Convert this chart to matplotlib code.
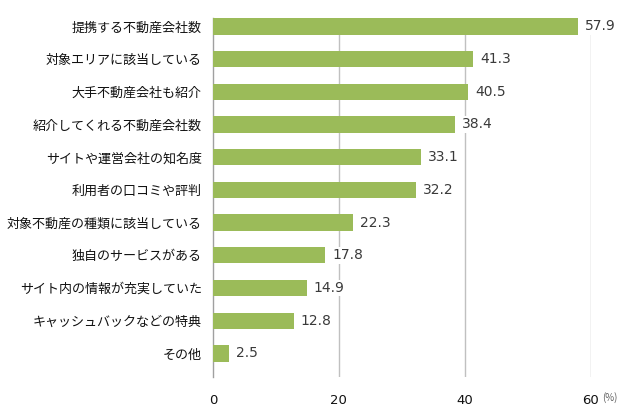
import numpy as np
import matplotlib
matplotlib.use('Agg')
import matplotlib.pyplot as plt

plt.rcParams['font.family'] = ['Noto Sans CJK JP', 'DejaVu Sans']

categories = ['提携する不動産会社数', '対象エリアに該当している', '大手不動産会社も紹介',
              '紹介してくれる不動産会社数', 'サイトや運営会社の知名度', '利用者の口コミや評判',
              '対象不動産の種類に該当している', '独自のサービスがある', 'サイト内の情報が充実していた',
              'キャッシュバックなどの特典', 'その他']
values = [57.9, 41.3, 40.5, 38.4, 33.1, 32.2, 22.3, 17.8, 14.9, 12.8, 2.5]
xticks = [0, 20, 40, 60]

fig = plt.figure(figsize=(6.2, 4.17), dpi=100)
ax = fig.add_axes([0.3435, 0.096, 0.6095, 0.88])

y = np.arange(len(categories))
ax.barh(y, values, height=0.5, color='#9bbb59', zorder=3)

for yi, v in zip(y, values):
    ax.text(v + 1.1, yi, f'{v:.1f}', va='center', ha='left', fontsize=10,
            family='DejaVu Sans', color='#3a3a3a', zorder=4,
            bbox=dict(facecolor='white', edgecolor='none', pad=1))

ax.set_xlim(0, 60)
ax.set_ylim(10.72, -0.5)
ax.set_yticks(y)
ax.set_yticklabels(categories, fontsize=9.4, color='#111111')
ax.set_xticks(xticks)
ax.set_xticklabels([str(t) for t in xticks], fontsize=9.5, color='#111111',
                   family='DejaVu Sans')
ax.tick_params(axis='both', length=0, pad=8)
ax.tick_params(axis='x', pad=12)

for t in xticks[1:]:
    ax.axvline(t, ymax=0.937, color='#c0c0c0', linewidth=1, zorder=1)

for s in ['top', 'right', 'bottom']:
    ax.spines[s].set_visible(False)
ax.spines['left'].set_color('#a0a0a0')
ax.spines['left'].set_linewidth(1)
ax.spines['left'].set_bounds(10.72, -0.25)

fig.text(0.971, 0.046, '(%)', fontsize=7, color='#606060', ha='left', va='center')

fig.savefig('out.png', dpi=100)
